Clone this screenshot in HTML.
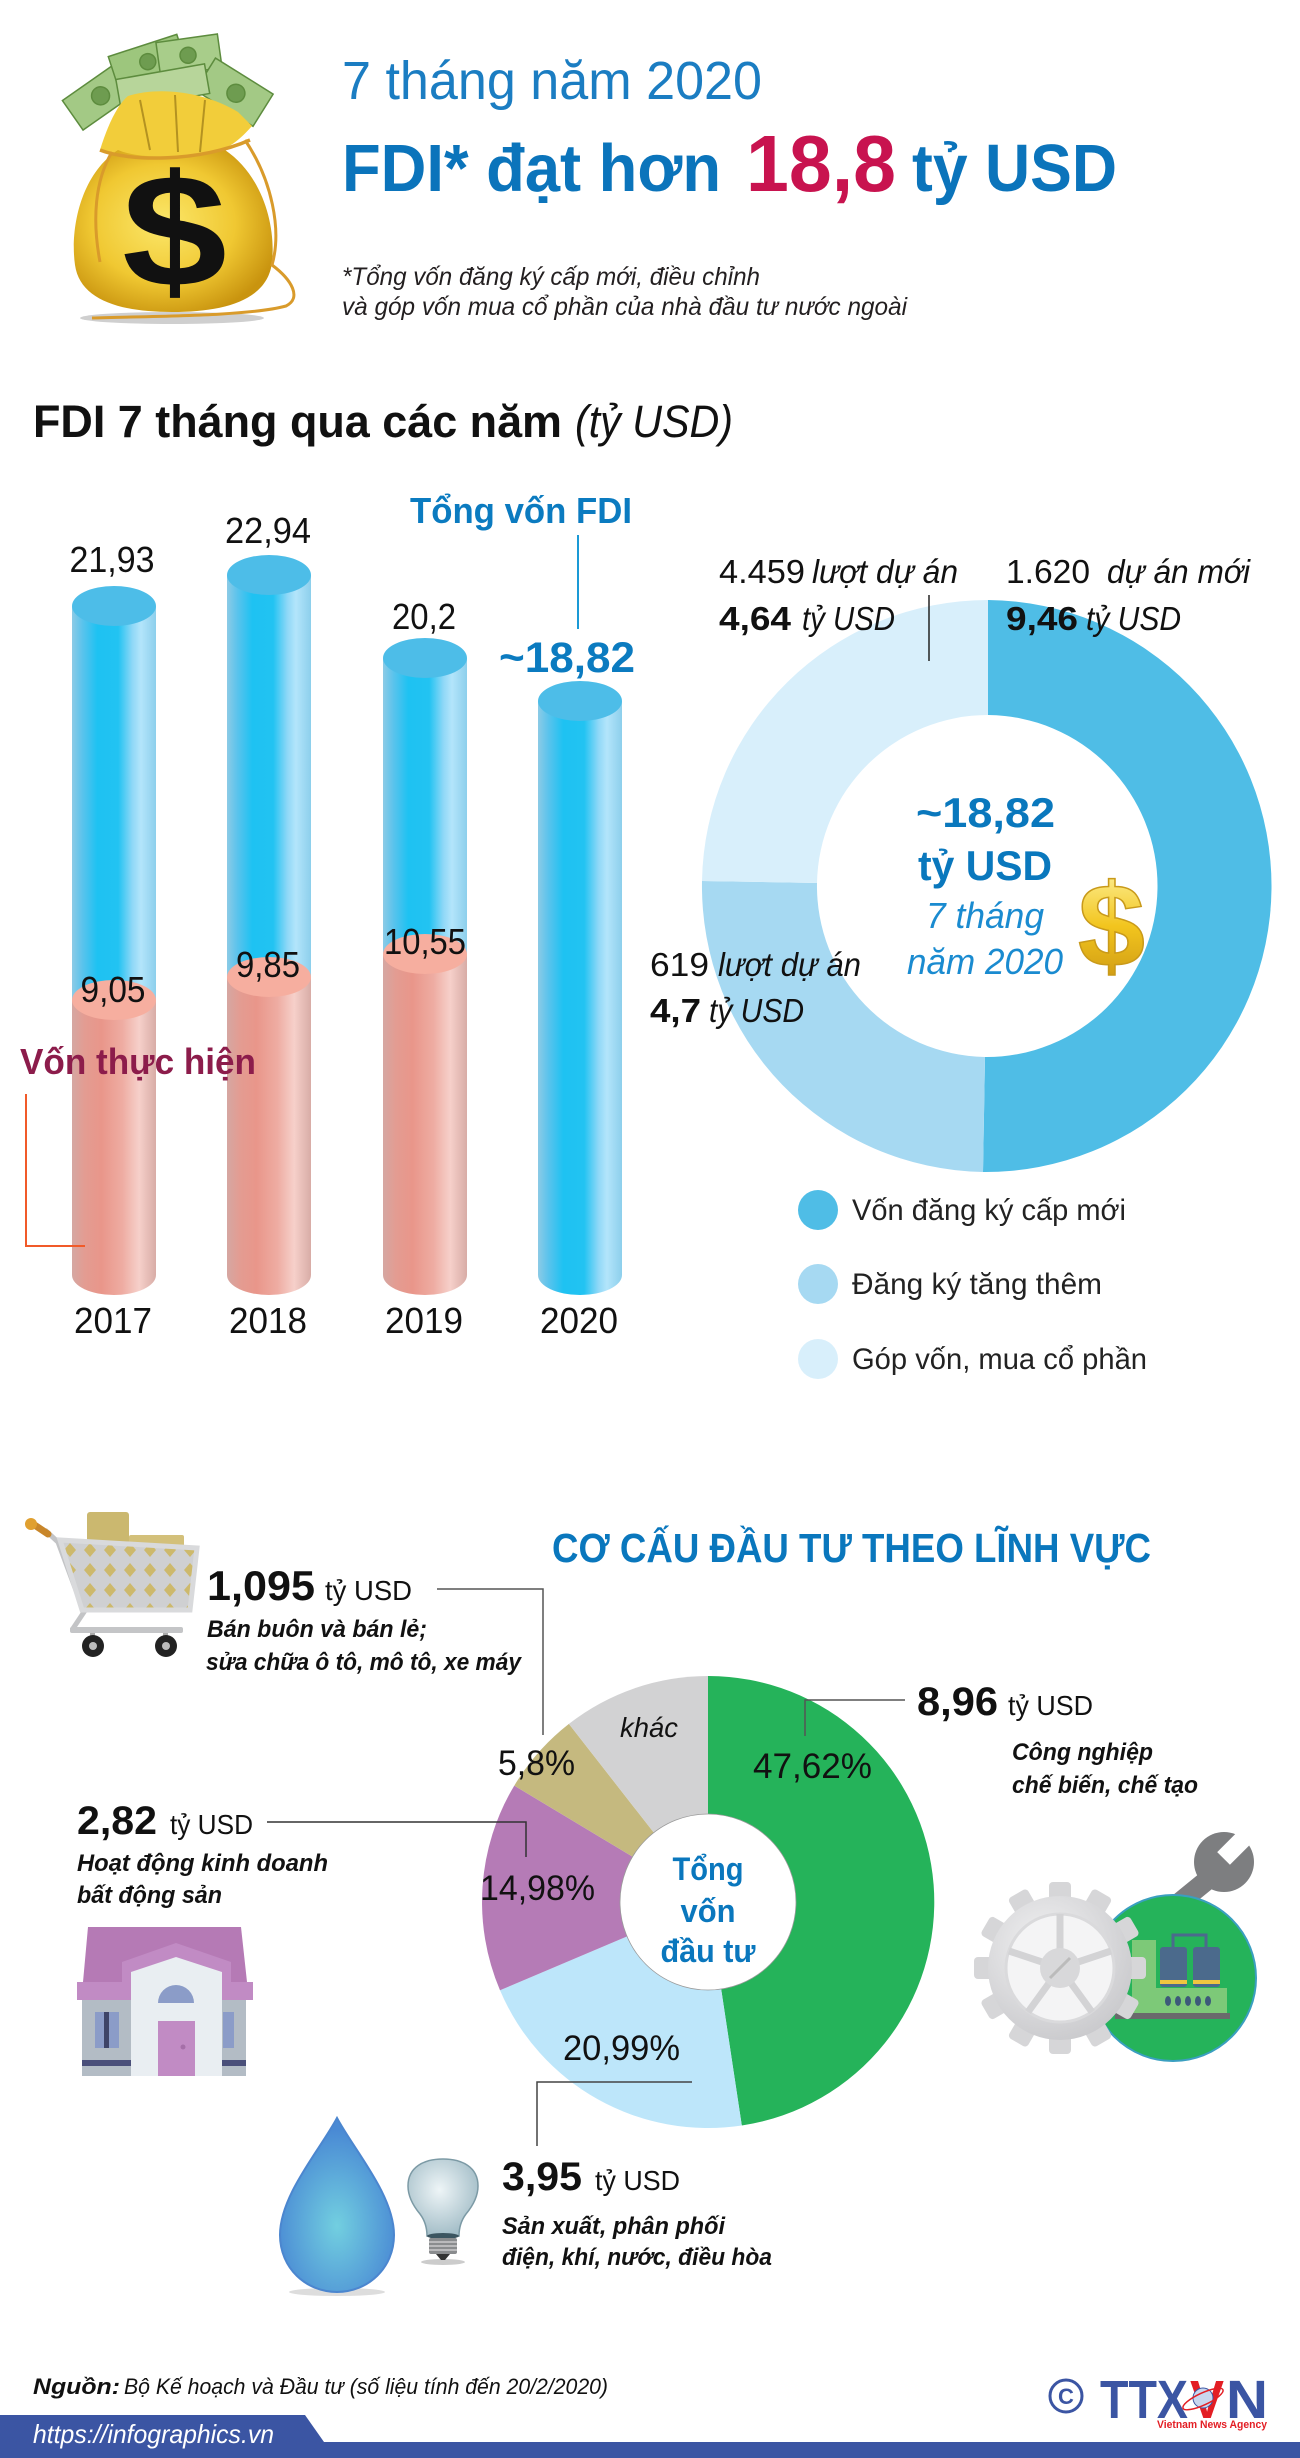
<!DOCTYPE html>
<html><head><meta charset="utf-8"><style>
html,body{margin:0;padding:0;background:#fff;}
svg{display:block;}
text{font-family:"Liberation Sans","DejaVu Sans",sans-serif;}
</style></head><body>
<svg width="1300" height="2458" viewBox="0 0 1300 2458" xmlns="http://www.w3.org/2000/svg">
<defs>
 <linearGradient id="gb" x1="0" x2="1" y1="0" y2="0">
  <stop offset="0" stop-color="#8ccbe6"/><stop offset="0.12" stop-color="#5cc3ec"/>
  <stop offset="0.3" stop-color="#1ec2f2"/><stop offset="0.55" stop-color="#22c3f2"/>
  <stop offset="0.72" stop-color="#8fd8f7"/><stop offset="0.82" stop-color="#b3e5fb"/>
  <stop offset="1" stop-color="#8dcfec"/>
 </linearGradient>
 <linearGradient id="gp" x1="0" x2="1" y1="0" y2="0">
  <stop offset="0" stop-color="#d5a7a2"/><stop offset="0.15" stop-color="#e39c92"/>
  <stop offset="0.35" stop-color="#e9968a"/><stop offset="0.6" stop-color="#eeaca2"/>
  <stop offset="0.8" stop-color="#f6d0ca"/><stop offset="1" stop-color="#d8aca6"/>
 </linearGradient>
 <radialGradient id="bag" cx="0.45" cy="0.45" r="0.6">
  <stop offset="0" stop-color="#fbe76a"/><stop offset="0.6" stop-color="#f0c832"/><stop offset="1" stop-color="#c9940f"/>
 </radialGradient>
 <linearGradient id="gold" x1="0" x2="0" y1="0" y2="1">
  <stop offset="0" stop-color="#fff6a8"/><stop offset="0.5" stop-color="#f2c51e"/><stop offset="1" stop-color="#c89212"/>
 </linearGradient>
 <radialGradient id="drop" cx="0.5" cy="0.62" r="0.55">
  <stop offset="0" stop-color="#72cfe0"/><stop offset="1" stop-color="#4a8ad4"/>
 </radialGradient>
 <radialGradient id="bulb" cx="0.45" cy="0.4" r="0.6">
  <stop offset="0" stop-color="#eef5f7"/><stop offset="1" stop-color="#a4bec8"/>
 </radialGradient>
 <radialGradient id="gear" cx="0.4" cy="0.35" r="0.7">
  <stop offset="0" stop-color="#f2f2f3"/><stop offset="1" stop-color="#c9c9cc"/>
 </radialGradient>
 <pattern id="dia" x="0" y="0" width="20" height="20" patternUnits="userSpaceOnUse">
  <rect width="20" height="20" fill="#cfd0d2"/>
  <polygon points="10,3 16,10 10,17 4,10" fill="#cdb96c"/>
 </pattern>
</defs>

<!-- ===== Money bag ===== -->
<ellipse cx="172" cy="318" rx="92" ry="6" fill="#cfcfcf"/>
<g stroke="#5d8c3e" stroke-width="1.5">
 <g transform="rotate(-35 100 95)"><rect x="66" y="78" width="72" height="36" fill="#a3c985"/><circle cx="100" cy="96" r="9" fill="#6e9c50"/></g>
 <g transform="rotate(-18 150 62)"><rect x="112" y="44" width="72" height="34" fill="#9dc67d"/><circle cx="148" cy="61" r="8" fill="#6e9c50"/></g>
 <g transform="rotate(-8 190 55)"><rect x="158" y="38" width="62" height="34" fill="#a8cd8a"/><circle cx="188" cy="55" r="8" fill="#6e9c50"/></g>
 <g transform="rotate(32 232 92)"><rect x="200" y="72" width="68" height="38" fill="#a3c985"/><circle cx="236" cy="91" r="9" fill="#6e9c50"/></g>
 <g transform="rotate(-10 160 88)"><rect x="118" y="72" width="90" height="30" fill="#b7d59a"/></g>
</g>
<path d="M100,150 C108,124 118,104 128,96 C160,86 205,92 238,112 L252,126 C238,142 226,150 210,154 C180,160 130,160 100,150 Z" fill="#f2cd3a"/>
<path d="M140,100 L150,150 M175,95 L178,152 M205,100 L200,152" stroke="#8a6a10" stroke-width="2" fill="none" opacity="0.6"/>
<path d="M118,150 C80,175 70,230 75,265 C80,300 120,312 172,312 C225,312 268,300 272,262 C276,225 262,175 225,150 C200,158 140,160 118,150 Z" fill="url(#bag)"/>
<text x="122" y="286" font-size="160" font-weight="bold" fill="#111" textLength="105" lengthAdjust="spacingAndGlyphs">$</text>
<path d="M100,150 C130,162 200,162 250,140" stroke="#d99b2b" stroke-width="3.5" fill="none"/>
<path d="M112,152 C95,180 92,220 100,262" stroke="#d99b2b" stroke-width="3" fill="none"/>
<path d="M245,140 C272,180 282,230 272,265 C292,280 302,298 286,306 C250,316 160,316 92,318" stroke="#d99b2b" stroke-width="3" fill="none"/>

<!-- ===== Header ===== -->
<text x="342" y="99" font-size="54" fill="#1b7dc2" textLength="420" lengthAdjust="spacingAndGlyphs">7 tháng năm 2020</text>
<text x="342" y="191" font-size="67" font-weight="bold" fill="#0b74bb" textLength="379" lengthAdjust="spacingAndGlyphs">FDI* đạt hơn</text>
<text x="746" y="191" font-size="80" font-weight="bold" fill="#c8134f" textLength="150" lengthAdjust="spacingAndGlyphs">18,8</text>
<text x="912" y="191" font-size="67" font-weight="bold" fill="#0b74bb" textLength="205" lengthAdjust="spacingAndGlyphs">tỷ USD</text>
<text x="342" y="285" font-size="25" font-style="italic" fill="#231f20" textLength="418" lengthAdjust="spacingAndGlyphs">*Tổng vốn đăng ký cấp mới, điều chỉnh</text>
<text x="342" y="315" font-size="25" font-style="italic" fill="#231f20" textLength="565" lengthAdjust="spacingAndGlyphs">và góp vốn mua cổ phần của nhà đầu tư nước ngoài</text>

<text x="33" y="437" font-size="45" font-weight="bold" fill="#111" textLength="529" lengthAdjust="spacingAndGlyphs">FDI 7 tháng qua các năm</text>
<text x="575" y="437" font-size="45" font-style="italic" fill="#111" textLength="158" lengthAdjust="spacingAndGlyphs">(tỷ USD)</text>

<!-- ===== Bars ===== -->
<rect x="72" y="606" width="84" height="394" fill="url(#gb)"/>
<rect x="72" y="1000" width="84" height="275" fill="url(#gp)"/>
<ellipse cx="114" cy="1275" rx="42" ry="20" fill="url(#gp)"/>
<ellipse cx="114" cy="1000" rx="42" ry="20" fill="#f6ae9f"/>
<ellipse cx="114" cy="606" rx="42" ry="20" fill="#4dbde8"/>
<rect x="227" y="575" width="84" height="402" fill="url(#gb)"/>
<rect x="227" y="977" width="84" height="298" fill="url(#gp)"/>
<ellipse cx="269" cy="1275" rx="42" ry="20" fill="url(#gp)"/>
<ellipse cx="269" cy="977" rx="42" ry="20" fill="#f6ae9f"/>
<ellipse cx="269" cy="575" rx="42" ry="20" fill="#4dbde8"/>
<rect x="383" y="658" width="84" height="296" fill="url(#gb)"/>
<rect x="383" y="954" width="84" height="321" fill="url(#gp)"/>
<ellipse cx="425" cy="1275" rx="42" ry="20" fill="url(#gp)"/>
<ellipse cx="425" cy="954" rx="42" ry="20" fill="#f6ae9f"/>
<ellipse cx="425" cy="658" rx="42" ry="20" fill="#4dbde8"/>
<rect x="538" y="701" width="84" height="574" fill="url(#gb)"/>
<ellipse cx="580" cy="1275" rx="42" ry="20" fill="url(#gb)"/>
<ellipse cx="580" cy="701" rx="42" ry="20" fill="#4dbde8"/>

<g font-size="36" fill="#111" text-anchor="middle">
 <text x="112" y="572" textLength="85" lengthAdjust="spacingAndGlyphs">21,93</text>
 <text x="268" y="543" textLength="86" lengthAdjust="spacingAndGlyphs">22,94</text>
 <text x="424" y="629" textLength="64" lengthAdjust="spacingAndGlyphs">20,2</text>
 <text x="113" y="1002" textLength="65" lengthAdjust="spacingAndGlyphs">9,05</text>
 <text x="268" y="977" textLength="64" lengthAdjust="spacingAndGlyphs">9,85</text>
 <text x="425" y="954" textLength="82" lengthAdjust="spacingAndGlyphs">10,55</text>
 <text x="113" y="1333" textLength="78" lengthAdjust="spacingAndGlyphs">2017</text>
 <text x="268" y="1333" textLength="78" lengthAdjust="spacingAndGlyphs">2018</text>
 <text x="424" y="1333" textLength="78" lengthAdjust="spacingAndGlyphs">2019</text>
 <text x="579" y="1333" textLength="78" lengthAdjust="spacingAndGlyphs">2020</text>
</g>
<text x="410" y="523" font-size="36" font-weight="bold" fill="#0b7bc0" textLength="222" lengthAdjust="spacingAndGlyphs">Tổng vốn FDI</text>
<line x1="578" y1="535" x2="578" y2="629" stroke="#1a9ad6" stroke-width="2"/>
<text x="499" y="672" font-size="43" font-weight="bold" fill="#0b7bc0" textLength="136" lengthAdjust="spacingAndGlyphs">~18,82</text>
<text x="20" y="1074" font-size="36" font-weight="bold" fill="#8c1c4b" textLength="236" lengthAdjust="spacingAndGlyphs">Vốn thực hiện</text>
<polyline points="26,1094 26,1246 85,1246" fill="none" stroke="#f15a29" stroke-width="2"/>

<!-- ===== Donut ===== -->
<path d="M988,600 A286,286 0 1 1 983.0,1172.0 L985.0,1057.0 A171,171 0 1 0 988,715 Z" fill="#4fbde6"/>
<path d="M983.0,1172.0 A286,286 0 0 1 702.0,881.0 L817.0,883.0 A171,171 0 0 0 985.0,1057.0 Z" fill="#a6d9f2"/>
<path d="M702.0,881.0 A286,286 0 0 1 988,600 L988,715 A171,171 0 0 0 817.0,883.0 Z" fill="#d8effb"/>
<line x1="929" y1="595" x2="929" y2="661" stroke="#222" stroke-width="1.5"/>

<g font-size="33" fill="#111">
 <text x="719" y="583" textLength="86" lengthAdjust="spacingAndGlyphs">4.459</text>
 <text x="812" y="583" font-style="italic" textLength="146" lengthAdjust="spacingAndGlyphs">lượt dự án</text>
 <text x="719" y="630" font-weight="bold" textLength="72" lengthAdjust="spacingAndGlyphs">4,64</text>
 <text x="802" y="630" font-style="italic" textLength="93" lengthAdjust="spacingAndGlyphs">tỷ USD</text>
 <text x="1006" y="583" textLength="84" lengthAdjust="spacingAndGlyphs">1.620</text>
 <text x="1107" y="583" font-style="italic" textLength="143" lengthAdjust="spacingAndGlyphs">dự án mới</text>
 <text x="1006" y="630" font-weight="bold" textLength="72" lengthAdjust="spacingAndGlyphs">9,46</text>
 <text x="1086" y="630" font-style="italic" textLength="95" lengthAdjust="spacingAndGlyphs">tỷ USD</text>
 <text x="650" y="976" textLength="59" lengthAdjust="spacingAndGlyphs">619</text>
 <text x="718" y="976" font-style="italic" textLength="143" lengthAdjust="spacingAndGlyphs">lượt dự án</text>
 <text x="650" y="1022" font-weight="bold" textLength="51" lengthAdjust="spacingAndGlyphs">4,7</text>
 <text x="709" y="1022" font-style="italic" textLength="95" lengthAdjust="spacingAndGlyphs">tỷ USD</text>
</g>
<text x="916" y="827" font-size="42" font-weight="bold" fill="#0a78bd" textLength="139" lengthAdjust="spacingAndGlyphs">~18,82</text>
<text x="918" y="880" font-size="42" font-weight="bold" fill="#0a78bd" textLength="134" lengthAdjust="spacingAndGlyphs">tỷ USD</text>
<text x="926" y="928" font-size="36" font-style="italic" fill="#1a8bd0" textLength="118" lengthAdjust="spacingAndGlyphs">7 tháng</text>
<text x="907" y="974" font-size="36" font-style="italic" fill="#1a8bd0" textLength="156" lengthAdjust="spacingAndGlyphs">năm 2020</text>
<text x="1078" y="966" font-size="118" font-weight="bold" fill="url(#gold)" stroke="#c99a1a" stroke-width="1.5" textLength="67" lengthAdjust="spacingAndGlyphs">$</text>

<circle cx="818" cy="1210" r="20" fill="#4fbde6"/>
<circle cx="818" cy="1284" r="20" fill="#a6d9f2"/>
<circle cx="818" cy="1359" r="20" fill="#d8effb"/>
<g font-size="30" fill="#222">
 <text x="852" y="1220" textLength="274" lengthAdjust="spacingAndGlyphs">Vốn đăng ký cấp mới</text>
 <text x="852" y="1294" textLength="250" lengthAdjust="spacingAndGlyphs">Đăng ký tăng thêm</text>
 <text x="852" y="1369" textLength="295" lengthAdjust="spacingAndGlyphs">Góp vốn, mua cổ phần</text>
</g>

<!-- ===== Lower section ===== -->
<text x="552" y="1562" font-size="41" font-weight="bold" fill="#0a77bd" textLength="599" lengthAdjust="spacingAndGlyphs">CƠ CẤU ĐẦU TƯ THEO LĨNH VỰC</text>

<!-- cart -->
<rect x="87" y="1512" width="42" height="38" rx="3" fill="#cbb86f"/>
<rect x="129" y="1535" width="55" height="15" rx="2" fill="#d3c07a"/>
<path d="M45,1530 L58,1542 L84,1612 L72,1630" stroke="#c3c4c6" stroke-width="5" fill="none"/>
<path d="M60,1540 L197,1548 L190,1610 L82,1610 Z" fill="url(#dia)" stroke="#d9dadc" stroke-width="5"/>
<rect x="70" y="1627" width="113" height="6" rx="2" fill="#c4c5c7"/>
<rect x="90" y="1633" width="5" height="8" fill="#aaa"/><rect x="163" y="1633" width="5" height="8" fill="#aaa"/>
<circle cx="93" cy="1646" r="11" fill="#222"/><circle cx="93" cy="1646" r="4" fill="#bbb"/>
<circle cx="166" cy="1646" r="11" fill="#222"/><circle cx="166" cy="1646" r="4" fill="#bbb"/>
<path d="M30,1522 L48,1534" stroke="#c8862a" stroke-width="7" stroke-linecap="round"/>
<circle cx="31" cy="1524" r="6" fill="#e0a030"/>

<text x="207" y="1600" font-size="42" font-weight="bold" fill="#111" textLength="108" lengthAdjust="spacingAndGlyphs">1,095</text>
<text x="325" y="1600" font-size="28" fill="#111" textLength="87" lengthAdjust="spacingAndGlyphs">tỷ USD</text>
<text x="207" y="1637" font-size="24" font-weight="bold" font-style="italic" fill="#111" textLength="220" lengthAdjust="spacingAndGlyphs">Bán buôn và bán lẻ;</text>
<text x="206" y="1670" font-size="24" font-weight="bold" font-style="italic" fill="#111" textLength="315" lengthAdjust="spacingAndGlyphs">sửa chữa ô tô, mô tô, xe máy</text>
<polyline points="437,1589 543,1589 543,1735" fill="none" stroke="#555" stroke-width="1.5"/>

<!-- pie -->
<path d="M708,1902 L708,1676 A226,226 0 0 1 741.8,2125.5 Z" fill="#25b35a"/>
<path d="M708,1902 L741.8,2125.5 A226,226 0 0 1 500.0,1990.3 Z" fill="#bde6fa"/>
<path d="M708,1902 L500.0,1990.3 A226,226 0 0 1 514.3,1785.6 Z" fill="#b57bb6"/>
<path d="M708,1902 L514.3,1785.6 A226,226 0 0 1 568.9,1723.9 Z" fill="#c5b97f"/>
<path d="M708,1902 L568.9,1723.9 A226,226 0 0 1 708,1676 Z" fill="#d2d2d3"/>
<circle cx="708" cy="1902" r="88" fill="#fff" stroke="#9a9a9a" stroke-width="0.8"/>
<g font-size="35" fill="#111">
 <text x="753" y="1778" textLength="119" lengthAdjust="spacingAndGlyphs">47,62%</text>
 <text x="498" y="1775" textLength="77" lengthAdjust="spacingAndGlyphs">5,8%</text>
 <text x="480" y="1900" textLength="115" lengthAdjust="spacingAndGlyphs">14,98%</text>
 <text x="563" y="2060" textLength="117" lengthAdjust="spacingAndGlyphs">20,99%</text>
</g>
<text x="620" y="1737" font-size="28" font-style="italic" fill="#111" textLength="58" lengthAdjust="spacingAndGlyphs">khác</text>
<g font-size="32" font-weight="bold" fill="#0a77bd" text-anchor="middle">
 <text x="708" y="1880" textLength="71" lengthAdjust="spacingAndGlyphs">Tổng</text>
 <text x="708" y="1922" textLength="55" lengthAdjust="spacingAndGlyphs">vốn</text>
 <text x="708" y="1962" textLength="95" lengthAdjust="spacingAndGlyphs">đầu tư</text>
</g>
<polyline points="805,1736 805,1700 905,1700" fill="none" stroke="#555" stroke-width="1.5"/>
<polyline points="267,1822 526,1822 526,1857" fill="none" stroke="#333" stroke-width="1.5"/>
<polyline points="692,2082 537,2082 537,2146" fill="none" stroke="#444" stroke-width="1.5"/>

<!-- 8,96 -->
<text x="917" y="1715" font-size="40" font-weight="bold" fill="#111" textLength="81" lengthAdjust="spacingAndGlyphs">8,96</text>
<text x="1008" y="1715" font-size="28" fill="#111" textLength="85" lengthAdjust="spacingAndGlyphs">tỷ USD</text>
<text x="1012" y="1760" font-size="24" font-weight="bold" font-style="italic" fill="#111" textLength="141" lengthAdjust="spacingAndGlyphs">Công nghiệp</text>
<text x="1012" y="1793" font-size="24" font-weight="bold" font-style="italic" fill="#111" textLength="186" lengthAdjust="spacingAndGlyphs">chế biến, chế tạo</text>

<!-- wrench -->
<line x1="1168" y1="1912" x2="1222" y2="1868" stroke="#7d7e80" stroke-width="20" stroke-linecap="round"/>
<circle cx="1224" cy="1862" r="30" fill="#7d7e80"/>
<rect x="1228" y="1826" width="18" height="38" fill="#fff" transform="rotate(45 1237 1845)"/>
<!-- green circle + factory -->
<circle cx="1173" cy="1978" r="83" fill="#25b35a" stroke="#3a9fc0" stroke-width="2"/>
<rect x="1132" y="1940" width="24" height="73" fill="#7dc978"/>
<rect x="1132" y="1988" width="95" height="25" fill="#7dc978"/>
<rect x="1160" y="1947" width="27" height="40" rx="3" fill="#4b6a8c"/>
<rect x="1193" y="1947" width="27" height="40" rx="3" fill="#4b6a8c"/>
<rect x="1160" y="1980" width="27" height="4" fill="#f0c640"/>
<rect x="1193" y="1980" width="27" height="4" fill="#f0c640"/>
<path d="M1173,1947 L1173,1935 L1206,1935 L1206,1947" fill="none" stroke="#4b6a8c" stroke-width="3"/>
<g fill="#3d5a7a"><ellipse cx="1168" cy="2001" rx="3" ry="5"/><ellipse cx="1178" cy="2001" rx="3" ry="5"/><ellipse cx="1188" cy="2001" rx="3" ry="5"/><ellipse cx="1198" cy="2001" rx="3" ry="5"/><ellipse cx="1208" cy="2001" rx="3" ry="5"/></g>
<rect x="1115" y="2013" width="115" height="6" fill="#6a6a6c"/>
<!-- gear -->
<g transform="translate(1060 1968)">
 <g fill="#d6d6d8">
  <rect x="-11" y="-86" width="22" height="24" rx="4"/>
  <rect x="-11" y="-86" width="22" height="24" rx="4" transform="rotate(30)"/>
  <rect x="-11" y="-86" width="22" height="24" rx="4" transform="rotate(60)"/>
  <rect x="-11" y="-86" width="22" height="24" rx="4" transform="rotate(90)"/>
  <rect x="-11" y="-86" width="22" height="24" rx="4" transform="rotate(120)"/>
  <rect x="-11" y="-86" width="22" height="24" rx="4" transform="rotate(150)"/>
  <rect x="-11" y="-86" width="22" height="24" rx="4" transform="rotate(180)"/>
  <rect x="-11" y="-86" width="22" height="24" rx="4" transform="rotate(210)"/>
  <rect x="-11" y="-86" width="22" height="24" rx="4" transform="rotate(240)"/>
  <rect x="-11" y="-86" width="22" height="24" rx="4" transform="rotate(270)"/>
  <rect x="-11" y="-86" width="22" height="24" rx="4" transform="rotate(300)"/>
  <rect x="-11" y="-86" width="22" height="24" rx="4" transform="rotate(330)"/>
 </g>
 <circle r="72" fill="url(#gear)"/>
 <circle r="54" fill="#f4f4f5" stroke="#dadadc" stroke-width="3"/>
 <g stroke="#d3d3d5" stroke-width="7">
  <line x1="0" y1="0" x2="0" y2="-54"/>
  <line x1="0" y1="0" x2="51" y2="-17"/>
  <line x1="0" y1="0" x2="32" y2="44"/>
  <line x1="0" y1="0" x2="-32" y2="44"/>
  <line x1="0" y1="0" x2="-51" y2="-17"/>
 </g>
 <circle r="20" fill="#d8d8da"/>
 <line x1="-10" y1="10" x2="10" y2="-10" stroke="#bbb" stroke-width="3"/>
</g>

<!-- 2,82 / house -->
<text x="77" y="1834" font-size="40" font-weight="bold" fill="#111" textLength="80" lengthAdjust="spacingAndGlyphs">2,82</text>
<text x="170" y="1834" font-size="28" fill="#111" textLength="83" lengthAdjust="spacingAndGlyphs">tỷ USD</text>
<text x="77" y="1871" font-size="24" font-weight="bold" font-style="italic" fill="#111" textLength="251" lengthAdjust="spacingAndGlyphs">Hoạt động kinh doanh</text>
<text x="77" y="1903" font-size="24" font-weight="bold" font-style="italic" fill="#111" textLength="145" lengthAdjust="spacingAndGlyphs">bất động sản</text>
<polygon points="88,1927 241,1927 247,1982 83,1982" fill="#b57ab5"/>
<rect x="77" y="1982" width="176" height="18" fill="#c18bc4"/>
<rect x="82" y="2000" width="164" height="76" fill="#b3bcc5"/>
<polygon points="122,1962 176,1943 231,1962 231,2000 122,2000" fill="#c18bc4"/>
<polygon points="131,1972 176,1957 222,1972 222,2076 131,2076" fill="#e9eef2"/>
<path d="M158,2003 A18,18 0 0 1 194,2003 Z" fill="#8b9cc8"/>
<rect x="158" y="2021" width="37" height="55" fill="#c18bc4"/>
<circle cx="183" cy="2047" r="2.5" fill="#a56fa8"/>
<rect x="95" y="2012" width="24" height="36" fill="#8b9cc8"/>
<rect x="104" y="2012" width="5" height="36" fill="#3e4468"/>
<rect x="223" y="2012" width="11" height="36" fill="#8b9cc8"/>
<rect x="82" y="2060" width="49" height="6" fill="#4a4f7a"/>
<rect x="222" y="2060" width="24" height="6" fill="#4a4f7a"/>

<!-- 3,95 / drop & bulb -->
<ellipse cx="337" cy="2292" rx="48" ry="4" fill="#ddd"/>
<path d="M337,2118 C320,2150 280,2195 280,2235 C280,2268 306,2292 337,2292 C368,2292 394,2268 394,2235 C394,2195 354,2150 337,2118 Z" fill="url(#drop)" stroke="#4b86cf" stroke-width="2"/>
<ellipse cx="443" cy="2262" rx="22" ry="3" fill="#ccc"/>
<path d="M420,2214 C410,2202 408,2192 408,2186 C408,2167 424,2159 443,2159 C462,2159 478,2167 478,2186 C478,2192 476,2202 466,2214 C460,2222 459,2230 459,2236 L427,2236 C427,2230 426,2222 420,2214 Z" fill="url(#bulb)" stroke="#7c9aa5" stroke-width="1.5"/>
<ellipse cx="443" cy="2236" rx="16" ry="3" fill="#3c5560"/>
<rect x="429" y="2238" width="28" height="16" rx="2" fill="#8a8c8e"/>
<g stroke="#c9cacb" stroke-width="1.5"><line x1="429" y1="2242" x2="457" y2="2242"/><line x1="429" y1="2246" x2="457" y2="2246"/><line x1="429" y1="2250" x2="457" y2="2250"/></g>
<path d="M436,2254 L450,2254 L445,2260 L441,2260 Z" fill="#333"/>
<text x="502" y="2190" font-size="40" font-weight="bold" fill="#111" textLength="80" lengthAdjust="spacingAndGlyphs">3,95</text>
<text x="595" y="2190" font-size="28" fill="#111" textLength="85" lengthAdjust="spacingAndGlyphs">tỷ USD</text>
<text x="502" y="2234" font-size="24" font-weight="bold" font-style="italic" fill="#111" textLength="223" lengthAdjust="spacingAndGlyphs">Sản xuất, phân phối</text>
<text x="502" y="2265" font-size="24" font-weight="bold" font-style="italic" fill="#111" textLength="270" lengthAdjust="spacingAndGlyphs">điện, khí, nước, điều hòa</text>

<!-- ===== Footer ===== -->
<text x="33" y="2394" font-size="22" font-weight="bold" font-style="italic" fill="#111" textLength="87" lengthAdjust="spacingAndGlyphs">Nguồn:</text>
<text x="124" y="2394" font-size="22" font-style="italic" fill="#111" textLength="484" lengthAdjust="spacingAndGlyphs">Bộ Kế hoạch và Đầu tư (số liệu tính đến 20/2/2020)</text>
<polygon points="0,2415 305,2415 324,2442 1300,2442 1300,2458 0,2458" fill="#3b55a3"/>
<text x="33" y="2443" font-size="26" font-style="italic" fill="#fff" textLength="241" lengthAdjust="spacingAndGlyphs">https://infographics.vn</text>

<ellipse cx="1066" cy="2396" rx="16" ry="16" fill="none" stroke="#3b55a3" stroke-width="3"/>
<text x="1066" y="2404" font-size="22" font-weight="bold" fill="#3b55a3" text-anchor="middle">C</text>
<text x="1100" y="2418" font-size="54" font-weight="bold" fill="#3b55a3" textLength="88" lengthAdjust="spacingAndGlyphs">TTX</text>
<text x="1190" y="2418" font-size="54" font-weight="bold" fill="#e31e24" textLength="34" lengthAdjust="spacingAndGlyphs">V</text>
<text x="1226" y="2418" font-size="54" font-weight="bold" fill="#3b55a3" textLength="42" lengthAdjust="spacingAndGlyphs">N</text>
<circle cx="1203" cy="2398" r="10" fill="#c9d6ee" stroke="#3b55a3" stroke-width="1"/>
<ellipse cx="1203" cy="2399" rx="22" ry="6" fill="none" stroke="#e31e24" stroke-width="1.5" transform="rotate(-25 1203 2399)"/>
<text x="1157" y="2428" font-size="11" font-weight="bold" fill="#e31e24" textLength="110" lengthAdjust="spacingAndGlyphs">Vietnam News Agency</text>
</svg>
</body></html>
